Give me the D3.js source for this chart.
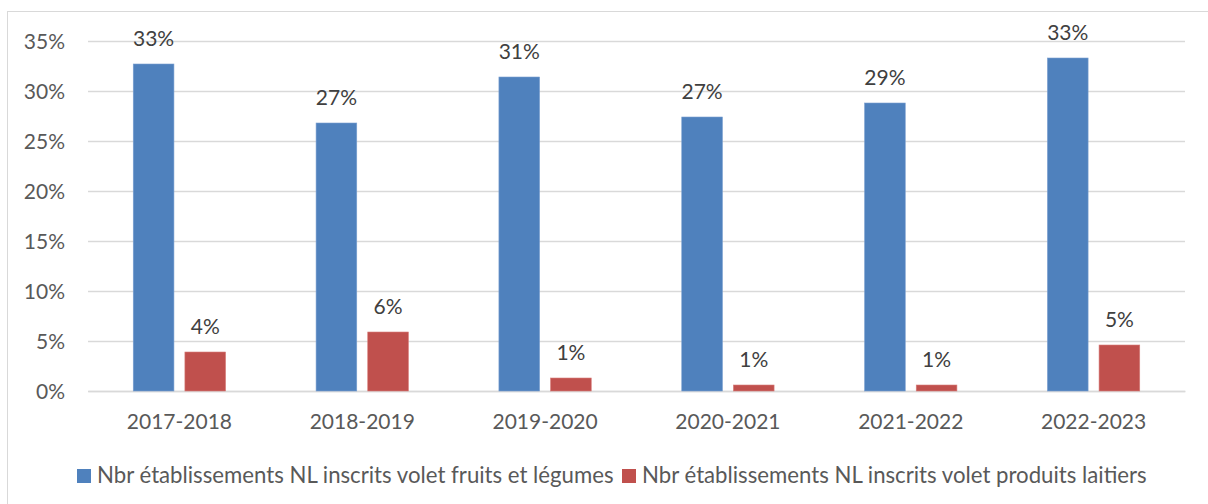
<!DOCTYPE html>
<html>
<head>
<meta charset="utf-8">
<script src="https://cdn.jsdelivr.net/npm/d3@7"></script>
<style>
  html, body { margin: 0; padding: 0; background: #fff; }
  svg { display: block; }
  text { font-family: Lato, "Open Sans", sans-serif; }
</style>
</head>
<body>
<svg id="chart" width="1208" height="504"></svg>
<script>
const categories = ["2017-2018", "2018-2019", "2019-2020", "2020-2021", "2021-2022", "2022-2023"];
const seriesNames = [
  "Nbr établissements NL inscrits volet fruits et légumes",
  "Nbr établissements NL inscrits volet produits laitiers"
];
const fruitsLegumes = [0.327, 0.268, 0.314, 0.274, 0.288, 0.333];
const produitsLaitiers = [0.039, 0.059, 0.013, 0.006, 0.006, 0.046];
const yTicks = [0, 0.05, 0.10, 0.15, 0.20, 0.25, 0.30, 0.35];
const colors = ["#4F81BD", "#C0504D"];

const svg = d3.select("#chart");
const W = 1208, H = 504;

// frame
svg.append("rect")
  .attr("x", 7.5).attr("y", 11.5)
  .attr("width", W + 10).attr("height", H + 10)
  .attr("fill", "#fff").attr("stroke", "#d9d9d9").attr("stroke-width", 1);

const plot = { left: 88, right: 1185, top: 41, bottom: 391 };

const x = d3.scaleBand().domain(categories).range([plot.left, plot.right]).paddingInner(0).paddingOuter(0);
const y = d3.scaleLinear().domain([0, 0.35]).range([plot.bottom, plot.top]);

// group layout within band
const barW = x.bandwidth() * 0.2225;
const gap = x.bandwidth() * 0.06;
const groupW = barW * 2 + gap;
const x1 = d3.scaleOrdinal().domain([0, 1]).range([
  (x.bandwidth() - groupW) / 2,
  (x.bandwidth() - groupW) / 2 + barW + gap
]);

// gridlines via axis
const yAxis = d3.axisLeft(y).tickValues(yTicks).tickSize(-(plot.right - plot.left)).tickPadding(23)
  .tickFormat(d3.format(".0%"));
const gy = svg.append("g").attr("transform", `translate(${plot.left},0)`).call(yAxis);
gy.select(".domain").remove();
gy.selectAll(".tick line").attr("stroke", "#d9d9d9").attr("stroke-width", 1.3);
gy.selectAll(".tick text").attr("fill", "#595959").style("font-size", "21px")
  .style("font-family", "Lato, sans-serif").attr("dy", "0.36em");

// x axis labels
const xAxis = d3.axisBottom(x).tickSize(0).tickPadding(23);
const gx = svg.append("g").attr("transform", `translate(0,${plot.bottom})`).call(xAxis);
gx.select(".domain").attr("stroke", "#d9d9d9").attr("stroke-width", 1.3);
gx.selectAll(".tick text").attr("fill", "#595959").style("font-size", "21px")
  .style("font-family", "Lato, sans-serif");

const series = [fruitsLegumes, produitsLaitiers];
series.forEach((vals, si) => {
  const g = svg.append("g");
  g.selectAll("rect").data(vals).join("rect")
    .attr("x", (d, i) => x(categories[i]) + x1(si))
    .attr("y", d => y(d))
    .attr("width", barW)
    .attr("height", d => y(0) - y(d))
    .attr("fill", colors[si])
    .attr("stroke", si === 0 ? "#7a9fd0" : "#d87d7a")
    .attr("stroke-width", 0.6);
  g.selectAll("text").data(vals).join("text")
    .attr("x", (d, i) => x(categories[i]) + x1(si) + barW / 2)
    .attr("y", d => y(d) - 18)
    .attr("text-anchor", "middle")
    .attr("fill", "#404040")
    .style("font-size", "21px")
    .text(d => d3.format(".0%")(d));
});

// legend
const legend = svg.append("g").attr("transform", "translate(0,483)");
const legX = [77, 622];
seriesNames.forEach((name, i) => {
  legend.append("rect").attr("x", legX[i]).attr("y", -14).attr("width", 14).attr("height", 14).attr("fill", colors[i]);
  legend.append("text").attr("x", legX[i] + 20).attr("y", 0)
    .attr("fill", "#595959").style("font-size", "22.2px").text(name);
});
</script>
</body>
</html>
